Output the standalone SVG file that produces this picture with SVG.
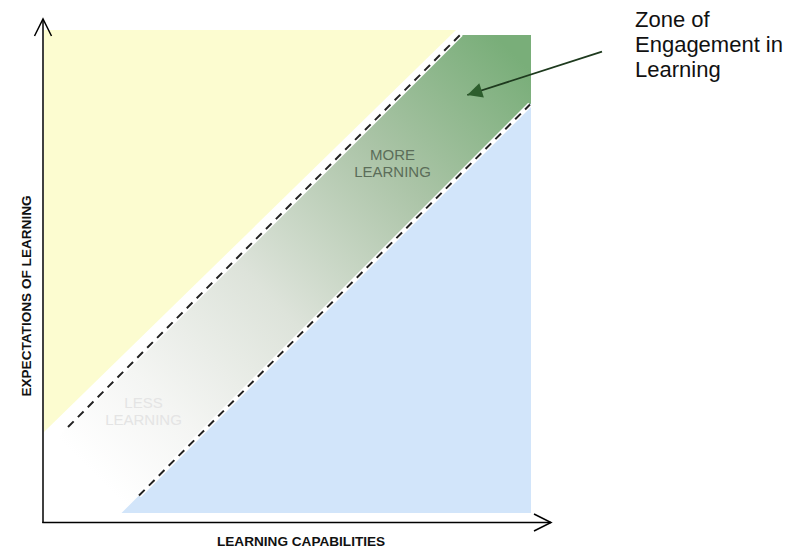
<svg xmlns="http://www.w3.org/2000/svg" width="788" height="548" viewBox="0 0 788 548">
  <style>
    .axis { fill: none; stroke: #000; stroke-width: 1.5; }
    .axis-label { font-family: "Liberation Sans", Arial, sans-serif; font-weight: bold; font-size: 13.6px; fill: #111; }
    .zone-label { font-family: "Liberation Sans", Arial, sans-serif; font-size: 15px; text-anchor: middle; }
    .callout-text { font-family: "Liberation Sans", Arial, sans-serif; font-size: 22px; fill: #111; }
    .halo { fill: none; stroke: #fff; stroke-width: 5; }
    .dash { fill: none; stroke: #222; stroke-width: 2; stroke-dasharray: 8 6; }
    .callout { fill: none; stroke: #1e3a1e; stroke-width: 1.8; }
  </style>
  <defs>
    <linearGradient id="bandFill" gradientUnits="userSpaceOnUse" x1="100" y1="480" x2="520" y2="60">
      <stop offset="0" stop-color="#ffffff"/>
      <stop offset="0.17" stop-color="#f4f5f3"/>
      <stop offset="0.42" stop-color="#dde3da"/>
      <stop offset="0.72" stop-color="#abc4a7"/>
      <stop offset="1" stop-color="#79ae79"/>
    </linearGradient>
    <marker id="openHead" markerUnits="userSpaceOnUse" viewBox="0 0 20 20" refX="19" refY="10" markerWidth="20" markerHeight="20" orient="auto" overflow="visible">
      <path d="M2,1.5 L19,10 L2,18.5" fill="none" stroke="#000" stroke-width="1.5"/>
    </marker>
    <marker id="solidHead" markerUnits="userSpaceOnUse" viewBox="0 0 15 15" refX="15" refY="7.5" markerWidth="15" markerHeight="15" orient="auto" overflow="visible">
      <path d="M0,0 L15,7.5 L0,15 Z" fill="#2d5e2d"/>
    </marker>
  </defs>

  <rect width="788" height="548" fill="#fff"/>

  <!-- region where expectations exceed capabilities -->
  <g id="zone-expectations">
    <polygon points="44,30 456,30 44,432" fill="#fcfcd0"/>
  </g>

  <!-- engagement band, fading from white to green -->
  <g id="zone-engagement">
    <polygon points="460,35 531,35 531,103.5 121.5,513 44,513 44,451" fill="url(#bandFill)"/>
    <text class="zone-label" x="392.5" y="159.5" fill="#5b6d59">MORE</text>
    <text class="zone-label" x="392.5" y="176.5" fill="#5b6d59">LEARNING</text>
    <text class="zone-label" x="143.5" y="408" fill="#e4e4e4">LESS</text>
    <text class="zone-label" x="143.5" y="425" fill="#e4e4e4">LEARNING</text>
  </g>

  <!-- region where capabilities exceed expectations -->
  <g id="zone-capabilities">
    <polygon points="121.5,513 531,513 531,103.5" fill="#d2e5fa"/>
  </g>

  <!-- band boundaries -->
  <g id="band-edges">
    <line class="halo" x1="68" y1="427" x2="461" y2="34"/>
    <line class="dash" x1="68" y1="427" x2="461" y2="34"/>
    <line class="halo" x1="139" y1="495.5" x2="530" y2="104.5"/>
    <line class="dash" x1="139" y1="495.5" x2="530" y2="104.5"/>
  </g>

  <g id="callout-label">
    <text class="callout-text" x="635" y="26.5">Zone of</text>
    <text class="callout-text" x="635" y="51.5">Engagement in</text>
    <text class="callout-text" x="635" y="76.5">Learning</text>
  </g>

  <g id="axis-labels">
    <text class="axis-label" x="217" y="546">LEARNING CAPABILITIES</text>
    <text class="axis-label" transform="translate(30.5,296) rotate(-90)" text-anchor="middle">EXPECTATIONS OF LEARNING</text>
  </g>

  <g id="connectors">
    <path class="axis" d="M43,523 V19" marker-end="url(#openHead)"/>
    <path class="axis" d="M42.3,522.5 H551" marker-end="url(#openHead)"/>
    <path class="callout" d="M602,51.7 L467.3,95" marker-end="url(#solidHead)"/>
  </g>
</svg>
